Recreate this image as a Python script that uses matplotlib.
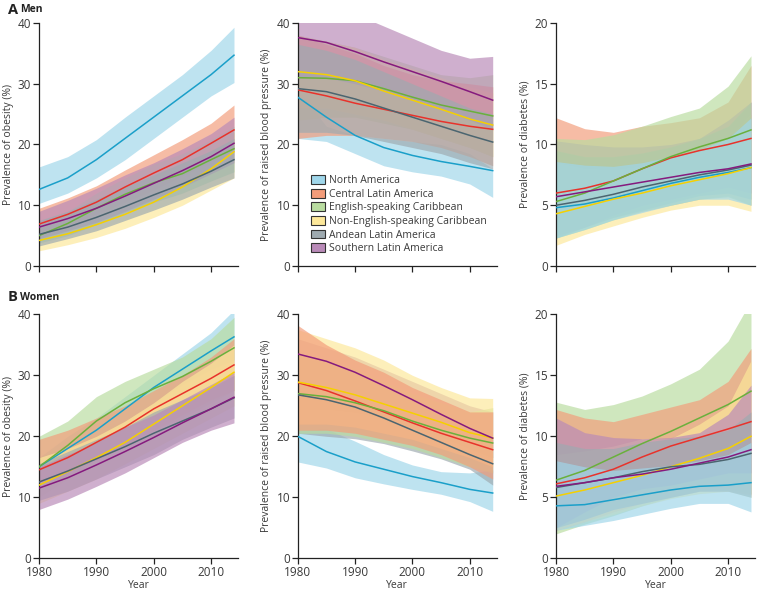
import matplotlib
matplotlib.use("Agg")
import matplotlib.pyplot as plt
from matplotlib.patches import Patch

plt.rcParams['font.family'] = ['Open Sans', 'DejaVu Sans']

years = [1980, 1985, 1990, 1995, 2000, 2005, 2010, 2014]
regions = ["North America", "Central Latin America", "English-speaking Caribbean",
           "Non-English-speaking Caribbean", "Andean Latin America", "Southern Latin America"]
line_colors = ["#1a9fc9", "#e8322b", "#6ab03c", "#f5d000", "#4b6570", "#851a7e"]
fill_colors = ["#9fd6ea", "#f39c7a", "#b9dca0", "#fde89a", "#9eaab0", "#b98ab8"]

# ---------------- Men: obesity ----------------
men_ob_mean = [
    [12.6, 14.5, 17.5, 21.0, 24.5, 28.0, 31.5, 34.7],
    [6.9, 8.5, 10.5, 13.0, 15.3, 17.5, 20.2, 22.4],
    [5.0, 7.0, 9.5, 11.8, 13.7, 15.2, 17.5, 19.3],
    [4.2, 5.3, 6.8, 8.5, 10.5, 13.0, 16.0, 18.8],
    [5.2, 6.4, 8.0, 9.8, 11.7, 13.5, 15.6, 17.5],
    [6.4, 7.8, 9.5, 11.5, 13.6, 15.7, 18.0, 20.2],
]
men_ob_lo = [
    [10.3, 12.0, 14.5, 17.5, 21.0, 24.5, 28.0, 30.2],
    [5.5, 6.7, 8.5, 10.5, 12.5, 14.8, 17.2, 19.3],
    [3.8, 5.0, 6.8, 8.8, 10.5, 12.0, 14.0, 15.5],
    [2.5, 3.5, 4.7, 6.2, 8.0, 10.0, 12.5, 14.5],
    [3.3, 4.5, 5.8, 7.5, 9.2, 11.0, 13.0, 14.5],
    [4.5, 5.8, 7.2, 9.0, 11.0, 13.0, 15.2, 17.0],
]
men_ob_hi = [
    [16.3, 18.0, 20.8, 24.5, 28.0, 31.5, 35.5, 39.3],
    [9.5, 11.2, 13.2, 15.8, 18.3, 20.8, 23.5, 26.5],
    [6.5, 9.0, 12.0, 14.5, 16.8, 18.5, 20.8, 23.0],
    [6.0, 7.3, 9.0, 11.0, 13.0, 15.5, 19.0, 22.0],
    [7.5, 9.0, 11.0, 13.0, 15.0, 17.0, 19.0, 21.0],
    [9.0, 10.8, 12.8, 15.0, 17.0, 19.3, 21.8, 24.5],
]

# ---------------- Men: raised blood pressure ----------------
men_bp_mean = [
    [27.8, 24.5, 21.5, 19.5, 18.2, 17.2, 16.4, 15.7],
    [29.0, 28.0, 26.8, 25.8, 24.8, 23.8, 23.0, 22.5],
    [31.0, 30.9, 30.5, 29.2, 27.8, 26.5, 25.5, 24.7],
    [32.0, 31.5, 30.5, 28.8, 27.3, 25.8, 24.2, 23.2],
    [29.2, 28.7, 27.5, 26.0, 24.5, 23.0, 21.5, 20.4],
    [37.6, 36.8, 35.3, 33.6, 32.0, 30.4, 28.7, 27.3],
]
men_bp_lo = [
    [21.0, 20.5, 18.5, 16.5, 15.5, 14.8, 13.5, 11.3],
    [21.0, 21.5, 21.5, 21.0, 20.5, 19.5, 18.0, 16.5],
    [24.0, 24.5, 24.5, 23.5, 22.5, 21.0, 19.5, 18.0],
    [26.0, 26.0, 25.0, 24.0, 22.5, 21.0, 19.5, 18.0],
    [22.0, 22.0, 21.5, 20.5, 19.5, 18.5, 17.0, 16.0],
    [31.0, 31.0, 30.0, 28.8, 27.5, 26.0, 24.0, 22.5],
]
men_bp_hi = [
    [29.0, 23.0, 21.5, 21.0, 20.5, 20.0, 18.5, 16.0],
    [38.0, 36.5, 35.0, 33.0, 31.5, 30.5, 30.0, 29.5],
    [38.0, 37.0, 36.0, 34.5, 33.0, 31.5, 31.0, 31.5],
    [38.0, 37.0, 36.0, 34.0, 32.5, 31.0, 29.5, 28.5],
    [36.5, 35.5, 34.0, 32.0, 30.0, 28.0, 26.0, 25.0],
    [42.0, 42.0, 41.5, 39.5, 37.5, 35.5, 34.2, 34.5],
]

# ---------------- Men: diabetes ----------------
men_db_mean = [
    [4.8, 5.1, 5.6, 6.2, 6.8, 7.3, 7.7, 8.1],
    [6.0, 6.4, 7.0, 8.0, 8.9, 9.5, 10.0, 10.5],
    [5.3, 6.0, 7.0, 8.0, 9.0, 9.8, 10.5, 11.2],
    [4.3, 4.9, 5.5, 6.0, 6.6, 7.1, 7.6, 8.1],
    [5.0, 5.4, 5.9, 6.5, 7.0, 7.5, 7.9, 8.3],
    [5.7, 6.1, 6.5, 6.9, 7.3, 7.7, 8.0, 8.4],
]
men_db_lo = [
    [2.3, 3.0, 3.8, 4.4, 5.0, 5.5, 5.5, 5.0],
    [2.5, 3.2, 4.0, 4.5, 5.0, 5.5, 5.8, 5.0],
    [2.3, 3.0, 3.8, 4.5, 5.0, 5.5, 5.7, 5.0],
    [1.7, 2.6, 3.3, 4.0, 4.6, 5.0, 5.0, 4.5],
    [2.3, 3.2, 4.0, 4.6, 5.2, 5.8, 6.0, 5.5],
    [2.5, 3.2, 4.2, 5.0, 5.5, 6.0, 6.5, 6.0],
]
men_db_hi = [
    [8.6, 8.3, 8.2, 8.5, 9.0, 9.6, 10.5, 12.2],
    [12.2, 11.3, 11.0, 11.5, 11.8, 12.2, 13.5, 16.5],
    [10.5, 10.4, 10.8, 11.5, 12.3, 13.0, 14.8, 17.3],
    [8.5, 8.0, 7.9, 8.2, 8.8, 9.5, 10.5, 12.5],
    [9.5, 9.0, 9.0, 9.3, 9.8, 10.5, 11.5, 13.5],
    [10.3, 10.0, 9.8, 9.8, 10.0, 10.5, 12.0, 13.5],
]

# ---------------- Women: obesity ----------------
wom_ob_mean = [
    [15.0, 18.0, 21.0, 24.5, 28.0, 31.0, 34.0, 36.3],
    [14.5, 16.5, 19.0, 21.5, 24.5, 27.0, 29.5, 31.7],
    [15.0, 18.5, 22.5, 25.5, 27.8, 29.8, 32.3, 34.5],
    [12.0, 14.2, 16.5, 19.0, 22.0, 25.0, 28.0, 30.5],
    [12.5, 14.3, 16.3, 18.3, 20.5, 22.5, 24.5, 26.3],
    [11.5, 13.2, 15.3, 17.5, 19.8, 22.2, 24.5, 26.4],
]
wom_ob_lo = [
    [13.5, 16.0, 19.0, 22.5, 25.5, 28.5, 31.0, 32.5],
    [12.5, 14.0, 16.5, 18.5, 21.0, 23.5, 26.0, 27.5],
    [10.0, 13.0, 16.0, 18.5, 21.0, 23.0, 25.5, 27.5],
    [9.0, 11.0, 13.0, 15.5, 18.0, 20.5, 23.0, 25.0],
    [9.5, 11.0, 13.0, 15.0, 17.0, 19.5, 21.5, 23.0],
    [8.0, 9.7, 11.8, 14.0, 16.5, 19.0, 21.0, 22.2],
]
wom_ob_hi = [
    [16.5, 20.0, 23.0, 26.5, 30.0, 33.5, 37.0, 40.7],
    [19.5, 21.0, 23.0, 25.0, 27.5, 30.0, 33.0, 36.0],
    [20.0, 22.5, 26.5, 29.0, 31.0, 33.0, 36.0, 39.5],
    [16.5, 18.0, 20.0, 22.5, 25.5, 29.0, 32.0, 35.0],
    [15.5, 17.5, 19.5, 21.5, 24.0, 26.0, 28.0, 30.0],
    [15.0, 17.0, 19.0, 21.5, 23.5, 26.0, 28.5, 30.5],
]

# ---------------- Women: raised blood pressure ----------------
wom_bp_mean = [
    [20.0, 17.5, 15.8, 14.6, 13.4, 12.4, 11.3, 10.7],
    [28.8, 27.5, 25.8, 24.0, 22.2, 20.5, 19.0, 17.8],
    [27.0, 26.5, 25.5, 24.2, 22.5, 21.0, 19.7, 18.9],
    [28.9, 28.0, 26.8, 25.3, 23.8, 22.3, 20.6, 19.7],
    [26.8, 26.0, 24.8, 23.0, 21.0, 19.0, 17.0, 15.5],
    [33.5, 32.3, 30.5, 28.3, 26.0, 23.6, 21.3, 19.7],
]
wom_bp_lo = [
    [15.8, 14.8, 13.2, 12.2, 11.3, 10.5, 9.3, 7.7],
    [21.0, 21.0, 20.5, 19.5, 18.5, 17.0, 15.0, 13.0],
    [20.5, 20.5, 20.0, 19.0, 18.0, 16.5, 15.0, 14.0],
    [22.0, 22.0, 21.5, 20.5, 19.5, 18.0, 16.5, 15.0],
    [20.5, 20.0, 19.6, 18.8, 17.6, 16.3, 14.6, 12.0],
    [24.5, 24.5, 24.0, 23.0, 21.5, 20.0, 18.0, 16.5],
]
wom_bp_hi = [
    [21.0, 21.2, 19.2, 17.0, 15.3, 14.2, 14.0, 14.5],
    [38.2, 35.0, 32.5, 30.5, 28.0, 26.0, 24.0, 24.0],
    [33.5, 32.5, 31.0, 29.0, 27.0, 25.5, 24.0, 24.7],
    [37.5, 36.0, 34.5, 32.5, 30.0, 28.0, 26.3, 26.2],
    [33.0, 32.0, 30.5, 28.5, 26.5, 24.0, 21.5, 19.5],
    [36.0, 34.5, 33.0, 31.0, 29.0, 27.0, 25.0, 24.0],
]

# ---------------- Women: diabetes ----------------
wom_db_mean = [
    [4.3, 4.4, 4.8, 5.2, 5.6, 5.9, 6.0, 6.2],
    [6.1, 6.6, 7.3, 8.3, 9.2, 9.9, 10.6, 11.2],
    [6.4, 7.2, 8.3, 9.4, 10.4, 11.5, 12.6, 13.7],
    [5.1, 5.6, 6.2, 6.8, 7.5, 8.2, 9.0, 10.0],
    [5.8, 6.2, 6.6, 7.1, 7.5, 7.7, 8.1, 8.6],
    [5.9, 6.2, 6.6, 6.9, 7.3, 7.8, 8.3, 8.9],
]
wom_db_lo = [
    [2.3, 2.7, 3.1, 3.6, 4.1, 4.5, 4.5, 3.8],
    [2.3, 3.0, 3.8, 4.5, 5.0, 5.5, 5.5, 5.2],
    [2.0, 2.8, 3.5, 4.3, 5.0, 5.5, 5.7, 5.3],
    [2.3, 3.0, 3.6, 4.3, 4.9, 5.3, 5.5, 5.0],
    [2.5, 3.2, 4.0, 4.5, 5.0, 5.5, 5.5, 5.0],
    [2.5, 3.8, 5.0, 5.7, 6.0, 6.5, 7.0, 7.0],
]
wom_db_hi = [
    [8.0, 7.5, 7.2, 7.4, 7.6, 8.0, 8.5, 9.5],
    [12.2, 11.5, 11.2, 11.8, 12.4, 13.0, 14.5, 17.2],
    [12.8, 12.2, 12.6, 13.3, 14.3, 15.5, 17.8, 21.1],
    [8.5, 8.8, 9.2, 9.8, 9.8, 11.0, 12.5, 16.2],
    [9.5, 9.0, 9.0, 9.5, 9.8, 10.0, 10.5, 12.0],
    [11.5, 10.3, 9.9, 9.8, 9.9, 10.3, 11.8, 14.2],
]

# drawing order of the bands (index into regions) per panel
orders = [
    [0, 3, 1, 2, 5, 4],
    [0, 2, 3, 1, 5, 4],
    [1, 3, 5, 4, 2, 0],
    [0, 2, 1, 3, 4, 5],
    [0, 5, 4, 2, 3, 1],
    [2, 1, 3, 5, 4, 0],
]

panels = [
    (men_ob_mean, men_ob_lo, men_ob_hi, 40, "Prevalence of obesity (%)"),
    (men_bp_mean, men_bp_lo, men_bp_hi, 40, "Prevalence of raised blood pressure (%)"),
    (men_db_mean, men_db_lo, men_db_hi, 20, "Prevalence of diabetes (%)"),
    (wom_ob_mean, wom_ob_lo, wom_ob_hi, 40, "Prevalence of obesity (%)"),
    (wom_bp_mean, wom_bp_lo, wom_bp_hi, 40, "Prevalence of raised blood pressure (%)"),
    (wom_db_mean, wom_db_lo, wom_db_hi, 20, "Prevalence of diabetes (%)"),
]

W, H = 757, 591
fig = plt.figure(figsize=(W / 100, H / 100), dpi=100)
lefts = [39, 297.7, 556]
rows = [(23, 266), (314.3, 558.3)]
axw = 199

txt_col = "#3a3a3a"
for i, (mean, lo, hi, ymax, ylabel) in enumerate(panels):
    r, c = divmod(i, 3)
    top, bot = rows[r]
    ax = fig.add_axes([lefts[c] / W, 1 - bot / H, axw / W, (bot - top) / H])
    for k in orders[i]:
        ax.fill_between(years, lo[k], hi[k], color=fill_colors[k], alpha=0.68, lw=0, zorder=1)
    for k in range(6):
        ax.plot(years, mean[k], color=line_colors[k], lw=1.1, zorder=3)
    ax.set_xlim(1980, 2014.7)
    ax.set_ylim(0, ymax)
    ax.set_xticks([1980, 1990, 2000, 2010])
    if ymax == 40:
        ax.set_yticks([0, 10, 20, 30, 40])
    else:
        ax.set_yticks([0, 5, 10, 15, 20])
    for s in ["top", "right"]:
        ax.spines[s].set_visible(False)
    for s in ["left", "bottom"]:
        ax.spines[s].set_color("#222222")
        ax.spines[s].set_linewidth(0.9)
    ax.tick_params(axis="both", colors="#222222", labelcolor=txt_col, labelsize=8.5,
                   length=4, width=0.9, direction="out", pad=1.5)
    ax.set_ylabel(ylabel, fontsize=7.5, color=txt_col, labelpad=3)
    if r == 0:
        ax.tick_params(axis="x", labelbottom=False)
    else:
        ax.set_xlabel("Year", fontsize=7.5, color=txt_col, va="center")
        ax.xaxis.set_label_coords(0.5, (bot - 585) / (bot - top))
    if i == 1:
        handles = [Patch(facecolor=fill_colors[k], edgecolor="#333333", lw=0.8)
                   for k in range(6)]
        ax.legend(handles, regions, loc="lower left", bbox_to_anchor=(0.02, 0.01),
                  frameon=False, fontsize=7.5, handlelength=1.3, handleheight=0.9,
                  handletextpad=0.4, labelspacing=0.25, labelcolor=txt_col)

fig.text(8 / W, 1 - 10 / H, "A", fontsize=10.5, fontweight="bold", color="#222222", va="center")
fig.text(20 / W, 1 - 10 / H, "Men", fontsize=7.5, fontweight="bold", color="#222222", va="center")
fig.text(8 / W, 1 - 297 / H, "B", fontsize=10.5, fontweight="bold", color="#222222", va="center")
fig.text(20 / W, 1 - 297 / H, "Women", fontsize=7.5, fontweight="bold", color="#222222", va="center")

fig.savefig("out.png", dpi=100, facecolor="white")
